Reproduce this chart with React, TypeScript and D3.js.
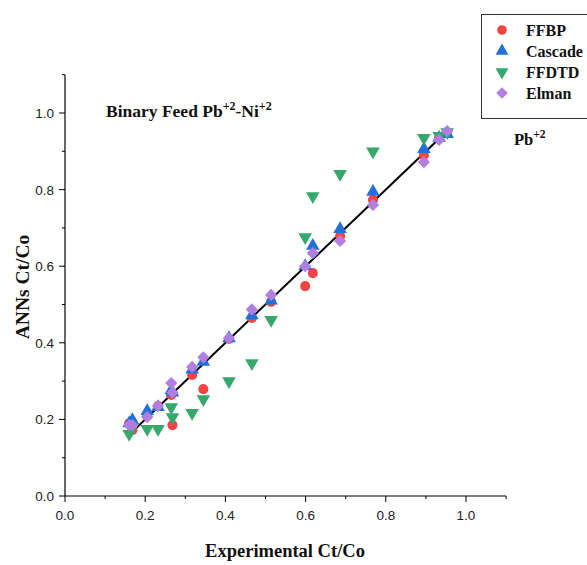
import React from "react";
import * as d3 from "d3";

const experimental = [0.16, 0.168, 0.205, 0.232, 0.265, 0.268, 0.317, 0.345, 0.409, 0.466, 0.514, 0.599, 0.618, 0.686, 0.768, 0.895, 0.933, 0.953];
const ffbp = [0.19, 0.172, 0.21, 0.235, 0.264, 0.185, 0.316, 0.279, 0.41, 0.465, 0.507, 0.548, 0.582, 0.679, 0.773, 0.89, 0.935, 0.95];
const cascade = [0.19, 0.198, 0.222, 0.232, 0.276, 0.27, 0.33, 0.35, 0.412, 0.472, 0.51, 0.6, 0.653, 0.697, 0.794, 0.906, 0.935, 0.945];
const ffdtd = [0.162, 0.18, 0.175, 0.175, 0.232, 0.206, 0.217, 0.253, 0.3, 0.347, 0.46, 0.676, 0.783, 0.841, 0.9, 0.935, 0.94, 0.95];
const elman = [0.185, 0.185, 0.206, 0.235, 0.295, 0.27, 0.337, 0.362, 0.412, 0.487, 0.525, 0.6, 0.634, 0.666, 0.76, 0.872, 0.93, 0.953];
const fitLine = [0.16, 0.953];
const xTicks = [0, 0.2, 0.4, 0.6, 0.8, 1.0];
const yTicks = [0, 0.2, 0.4, 0.6, 0.8, 1.0];
const minorTicks = [0.1, 0.3, 0.5, 0.7, 0.9, 1.1];

const seriesNames = ["FFBP", "Cascade", "FFDTD", "Elman"];
const seriesValues = [ffbp, cascade, ffdtd, elman];
const colors = ["#F04545", "#2270DA", "#35A86B", "#B27FE0"];
const symbols = [d3.symbolCircle, d3.symbolTriangle, d3.symbolTriangle, d3.symbolSquare];
const sizes = [80, 80, 80, 75];
const rotations = [0, 0, 180, 45];

const W = 587, H = 565;
const x0 = 65, yBottom = 496;

export default function App() {
  const x = d3.scaleLinear().domain([0, 1.1]).range([x0, x0 + 1.1 * 401]);
  const y = d3.scaleLinear().domain([0, 1.1]).range([yBottom, yBottom - 1.1 * 383]);
  const serif = "'Liberation Serif', 'Times New Roman', serif";
  const sans = "'Liberation Sans', Arial, sans-serif";
  const line = d3.line<number>().x((d) => x(d)).y((d) => y(d));

  return (
    <svg width={W} height={H} style={{ position: "absolute", left: 0, top: 0, background: "#fff" }}>
      {/* axes */}
      <line x1={x0} x2={x(1.1)} y1={yBottom} y2={yBottom} stroke="#000" strokeWidth={1.2} />
      <line x1={x0} x2={x0} y1={yBottom} y2={y(1.1)} stroke="#000" strokeWidth={1.2} />
      {xTicks.map((t) => (
        <g key={"xt" + t}>
          <line x1={x(t)} x2={x(t)} y1={yBottom} y2={yBottom + 6} stroke="#000" strokeWidth={1} />
          <text x={x(t)} y={yBottom + 24} textAnchor="middle" fontFamily={sans} fontSize={13.5} fill="#222">
            {t.toFixed(1)}
          </text>
        </g>
      ))}
      {minorTicks.map((t) => (
        <line key={"xm" + t} x1={x(t)} x2={x(t)} y1={yBottom} y2={yBottom + 3} stroke="#000" strokeWidth={1} />
      ))}
      {yTicks.map((t) => (
        <g key={"yt" + t}>
          <line x1={x0 - 6} x2={x0} y1={y(t)} y2={y(t)} stroke="#000" strokeWidth={1} />
          <text x={x0 - 11} y={y(t) + 5} textAnchor="end" fontFamily={sans} fontSize={13.5} fill="#222">
            {t.toFixed(1)}
          </text>
        </g>
      ))}
      {minorTicks.map((t) => (
        <line key={"ym" + t} x1={x0 - 3} x2={x0} y1={y(t)} y2={y(t)} stroke="#000" strokeWidth={1} />
      ))}

      {/* axis titles */}
      <text x={285} y={557} textAnchor="middle" fontFamily={serif} fontWeight="bold" fontSize={18.5} fill="#111">
        Experimental Ct/Co
      </text>
      <text transform={`translate(29,287) rotate(-90)`} textAnchor="middle" fontFamily={serif} fontWeight="bold" fontSize={19.5} fill="#111">
        ANNs Ct/Co
      </text>

      {/* title */}
      <text x={106} y={117} fontFamily={serif} fontWeight="bold" fontSize={17.5} fill="#111">
        Binary Feed Pb<tspan dy={-7} fontSize={12}>+2</tspan><tspan dy={7}>-Ni</tspan><tspan dy={-7} fontSize={12}>+2</tspan>
      </text>

      {/* fit line */}
      <path d={line(fitLine) || ""} stroke="#000" strokeWidth={2} fill="none" />

      {/* points */}
      {seriesValues.map((vals, si) => (
        <g key={seriesNames[si]}>
          {vals.map((v, i) => (
            <path
              key={i}
              d={d3.symbol(symbols[si], sizes[si])() || ""}
              transform={`translate(${x(experimental[i])},${y(v)}) rotate(${rotations[si]})`}
              fill={colors[si]}
            />
          ))}
        </g>
      ))}

      {/* legend */}
      <rect x={481.5} y={14.5} width={120} height={104} fill="#fff" stroke="#333" strokeWidth={1} />
      {seriesNames.map((n, i) => (
        <g key={"lg" + n}>
          <path
            d={d3.symbol(symbols[i], sizes[i] * 0.9)() || ""}
            transform={`translate(502,${30 + i * 21}) rotate(${rotations[i]})`}
            fill={colors[i]}
          />
          <text x={526} y={35.5 + i * 21} fontFamily={serif} fontWeight="bold" fontSize={16} fill="#111">
            {n}
          </text>
        </g>
      ))}

      {/* Pb label */}
      <text x={514} y={145} fontFamily={serif} fontWeight="bold" fontSize={16.5} fill="#111">
        Pb<tspan dy={-7} fontSize={11.5}>+2</tspan>
      </text>
    </svg>
  );
}
